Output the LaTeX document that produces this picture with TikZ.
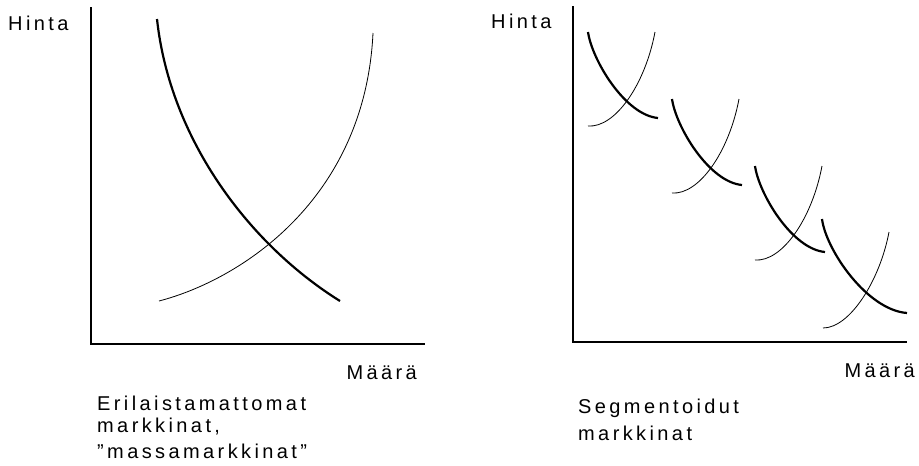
\documentclass[tikz,border=0pt]{standalone}
\usepackage{fontspec}
\setmainfont{Liberation Sans}[LetterSpace=17]
\usepackage{tikz}

\begin{document}
\begin{tikzpicture}[
  x=1pt, y=-1pt,
  axis/.style={line width=1.4pt},
  demand/.style={line width=2.2pt},
  supply/.style={line width=0.8pt},
  lbl/.style={font=\fontsize{20}{22}\selectfont,inner sep=0pt,anchor=base west,align=left}
]
  \useasboundingbox (0,0) rectangle (919,466);

  % left panel: one market
  \coordinate (top1) at (91,7);
  \coordinate (o1)   at (91,344);
  \coordinate (end1) at (425,344);
  \draw[axis] (top1) -- (o1) -- (end1);

  \draw[demand] (157,19) .. controls (170,140) and (250,245) .. (340,301);
  \draw[supply] (159,301) .. controls (240,280) and (365,200) .. (373,33);

  \node[lbl] (hinta1) at (8,30) {Hinta};
  \node[lbl,anchor=base east] (maara1) at (417,379) {Määrä};
  % base of a multi-line node is its last line
  \node[lbl] (mass1) at (97,458) {Erilaistamattomat\\markkinat,\\[4pt]”massamarkkinat”};

  % right panel: segments
  \coordinate (top2) at (573,6);
  \coordinate (o2)   at (573,342);
  \coordinate (end2) at (907,342);
  \draw[axis] (top2) -- (o2) -- (end2);

  \foreach \dx/\dy in {588/32, 672/99, 755/166} {
    \begin{scope}[shift={(\dx,\dy)}]
      \draw[demand] (0,0) .. controls (4,28) and (37,83) .. (70,86);
      \draw[supply] (0,94) .. controls (27,96) and (57,53) .. (67,0);
    \end{scope}
  }
  \begin{scope}[shift={(822,219)}]
    \draw[demand] (0,0) .. controls (4,31) and (45,91) .. (85,94);
    \draw[supply] (1,109) .. controls (28,109) and (58,61) .. (67,13);
  \end{scope}

  \node[lbl] (hinta2) at (491,28) {Hinta};
  \node[lbl,anchor=base east] (maara2) at (915,377) {Määrä};
  \node[lbl,font=\fontsize{20}{27}\selectfont] (seg2) at (578,440) {Segmentoidut\\markkinat};
\end{tikzpicture}
\end{document}
